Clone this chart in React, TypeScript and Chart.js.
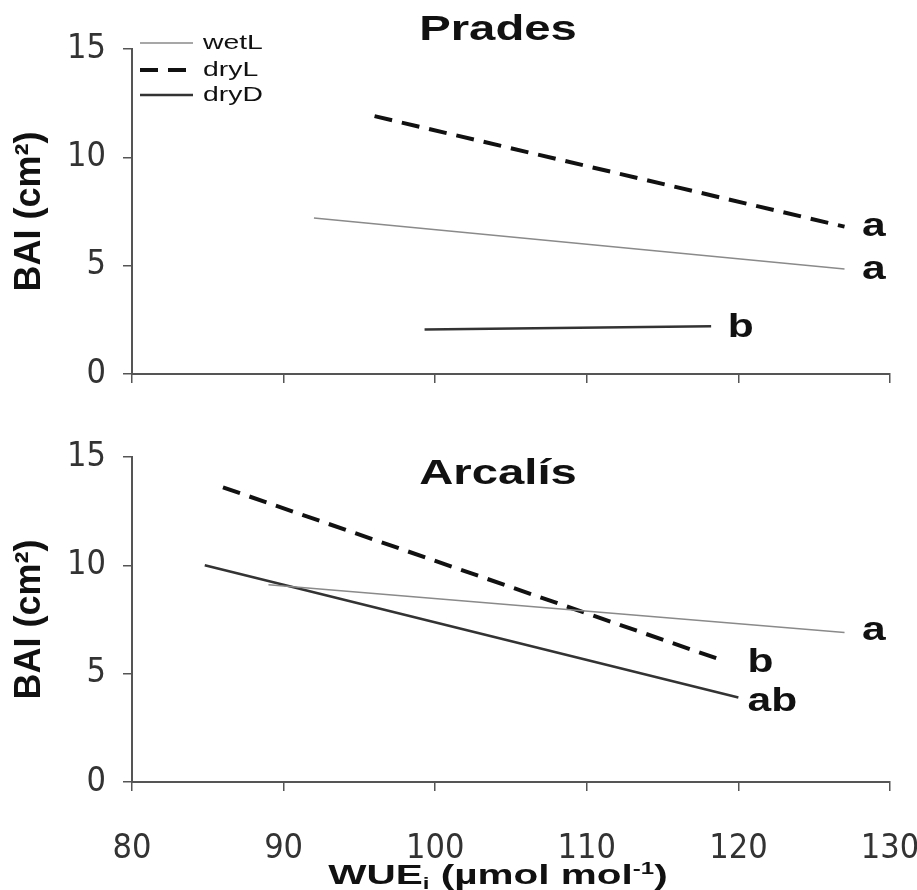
import { useEffect, useRef } from 'react';
import { Chart, registerables } from 'chart.js';

Chart.register(...registerables);

// ---------- data ----------
const seriesNames = ['wetL', 'dryL', 'dryD'];
const xTickValues = [80, 90, 100, 110, 120, 130];
const yTickValues = [0, 5, 10, 15];

const pradesTitle = 'Prades';
const pradesWetL = [{ x: 92, y: 7.2 }, { x: 127, y: 4.85 }];
const pradesDryL = [{ x: 96, y: 11.9 }, { x: 127, y: 6.8 }];
const pradesDryD = [{ x: 99.3, y: 2.05 }, { x: 118.2, y: 2.2 }];
const pradesLetters = ['a', 'a', 'b'];
const pradesLetterX = [128.15, 128.15, 119.3];
const pradesLetterY = [6.76, 4.81, 2.13];

const arcalisTitle = 'Arcalís';
const arcalisWetL = [{ x: 89, y: 9.1 }, { x: 127, y: 6.9 }];
const arcalisDryL = [{ x: 86, y: 13.6 }, { x: 119, y: 5.6 }];
const arcalisDryD = [{ x: 84.8, y: 10.0 }, { x: 120, y: 3.9 }];
const arcalisLetters = ['a', 'b', 'ab'];
const arcalisLetterX = [128.15, 120.6, 120.6];
const arcalisLetterY = [6.94, 5.5, 3.7];

const yTitle = 'BAI (cm²)';

// ---------- styles ----------
const W = 917;
const TICK_FONT = "'Liberation Sans Narrow', 'DejaVu Sans Condensed', 'Liberation Sans', Arial, sans-serif";
const BOLD_FONT = "'Liberation Sans', Arial, sans-serif";
const seriesStyles = [
  { color: '#8a8a8a', width: 1.5, dash: [] as number[] },
  { color: '#111111', width: 4, dash: [18, 10] },
  { color: '#333333', width: 2.5, dash: [] as number[] },
];

function stretchedText(ctx: CanvasRenderingContext2D, text: string, x: number, y: number, font: string, sx: number, align: CanvasTextAlign, baseline: CanvasTextBaseline) {
  ctx.save();
  ctx.font = font;
  ctx.translate(x, y);
  ctx.scale(sx, 1);
  ctx.textAlign = align;
  ctx.textBaseline = baseline;
  ctx.fillStyle = '#111';
  ctx.fillText(text, 0, 0);
  ctx.restore();
}

interface PanelCfg {
  title: string;
  titleDy: number;
  series: { x: number; y: number }[][];
  letters: string[];
  letterX: number[];
  letterY: number[];
  showXLabels: boolean;
  showLegend: boolean;
  showXTitle: boolean;
  height: number;
  padTop: number;
  xAxisHeight: number;
}

function buildChart(canvas: HTMLCanvasElement, cfg: PanelCfg) {
  const annotate = {
    id: 'annotate',
    afterDatasetsDraw(chart: any) {
      const ctx: CanvasRenderingContext2D = chart.ctx;
      const area = chart.chartArea;
      const xs = chart.scales.x;
      const ys = chart.scales.y;
      // panel title
      stretchedText(ctx, cfg.title, (area.left + area.right) / 2 - 13, area.top + cfg.titleDy,
        `bold 35px ${BOLD_FONT}`, 1.35, 'center', 'middle');
      // significance letters
      const size = 34;
      cfg.letters.forEach((t, i) => {
        const px = xs.getPixelForValue(cfg.letterX[i]);
        const py = ys.getPixelForValue(cfg.letterY[i]);
        stretchedText(ctx, t, px, py + size * 0.26, `bold ${size}px ${BOLD_FONT}`, 1.25, 'left', 'alphabetic');
      });
      // legend
      if (cfg.showLegend) {
        const rows = [-6, 21, 46];
        seriesNames.forEach((name, i) => {
          const st = seriesStyles[i];
          const y = area.top + rows[i];
          ctx.save();
          ctx.strokeStyle = st.color;
          ctx.lineWidth = st.width;
          ctx.setLineDash(st.dash);
          ctx.beginPath();
          ctx.moveTo(area.left + 8, y);
          ctx.lineTo(area.left + 61, y);
          ctx.stroke();
          ctx.restore();
          stretchedText(ctx, name, area.left + 71, y, `21px ${BOLD_FONT}`, 1.35, 'left', 'middle');
        });
      }
      // x axis title with subscript/superscript
      if (cfg.showXTitle) {
        const parts: { t: string; size: number; dy: number }[] = [
          { t: 'WUE', size: 27, dy: 0 },
          { t: 'i', size: 16, dy: 5 },
          { t: ' (µmol mol', size: 27, dy: 0 },
          { t: '-1', size: 16, dy: -10 },
          { t: ')', size: 27, dy: 0 },
        ];
        const sx = 1.5;
        ctx.save();
        let total = 0;
        parts.forEach(p => { ctx.font = `bold ${p.size}px ${BOLD_FONT}`; total += ctx.measureText(p.t).width * sx; });
        let x = (area.left + area.right) / 2 - 13 - total / 2;
        const baseY = xs.bottom - 6;
        parts.forEach(p => {
          const f = `bold ${p.size}px ${BOLD_FONT}`;
          ctx.font = f;
          const w = ctx.measureText(p.t).width * sx;
          stretchedText(ctx, p.t, x, baseY + p.dy, f, sx, 'left', 'alphabetic');
          x += w;
        });
        ctx.restore();
      }
    },
  };

  return new Chart(canvas, {
    type: 'line',
    data: {
      datasets: cfg.series.map((pts, i) => ({
        label: seriesNames[i],
        data: pts,
        borderColor: seriesStyles[i].color,
        borderWidth: seriesStyles[i].width,
        borderDash: seriesStyles[i].dash,
        pointRadius: 0,
        fill: false,
        tension: 0,
      })),
    },
    options: {
      animation: false,
      responsive: false,
      devicePixelRatio: 1,
      layout: { padding: { top: cfg.padTop, right: W - 890, left: 0, bottom: 0 } },
      plugins: { legend: { display: false }, title: { display: false }, tooltip: { enabled: false } },
      scales: {
        x: {
          type: 'linear',
          min: 80,
          max: 130,
          afterBuildTicks: (s: any) => { s.ticks = xTickValues.map(v => ({ value: v })); },
          afterFit: (s: any) => { s.height = cfg.xAxisHeight; s.paddingLeft = 0; s.paddingRight = 0; },
          ticks: {
            display: cfg.showXLabels,
            font: { family: TICK_FONT, size: 34 },
            color: '#333',
            padding: 38,
            maxRotation: 0,
          },
          grid: { drawOnChartArea: false, drawTicks: true, tickLength: 9, color: '#555', lineWidth: 1.5 },
          border: { display: true, color: '#555', width: 2 },
        },
        y: {
          type: 'linear',
          min: 0,
          max: 15,
          afterBuildTicks: (s: any) => { s.ticks = yTickValues.map(v => ({ value: v })); },
          afterFit: (s: any) => { s.width = 132; s.paddingTop = 0; s.paddingBottom = 0; },
          ticks: {
            font: { family: TICK_FONT, size: 34 },
            color: '#333',
            padding: 17,
          },
          grid: { drawOnChartArea: false, drawTicks: true, tickLength: 9, color: '#555', lineWidth: 1.5 },
          border: { display: true, color: '#555', width: 2 },
          title: {
            display: true,
            text: yTitle,
            font: { family: BOLD_FONT, size: 36, weight: 'bold' },
            color: '#111',
            padding: { top: 8, bottom: 0 },
          },
        },
      },
    },
    plugins: [annotate],
  } as any);
}

function Panel({ cfg, top }: { cfg: PanelCfg; top: number }) {
  const ref = useRef<HTMLCanvasElement>(null);
  useEffect(() => {
    if (!ref.current) return;
    const chart = buildChart(ref.current, cfg);
    return () => chart.destroy();
  }, []);
  return (
    <canvas
      ref={ref}
      width={W}
      height={cfg.height}
      style={{ position: 'absolute', left: 0, top, width: W, height: cfg.height, display: 'block' }}
    />
  );
}

const topCfg: PanelCfg = {
  title: pradesTitle,
  titleDy: -19,
  series: [pradesWetL, pradesDryL, pradesDryD],
  letters: pradesLetters,
  letterX: pradesLetterX,
  letterY: pradesLetterY,
  showXLabels: false,
  showLegend: true,
  showXTitle: false,
  height: 400,
  padTop: 49,
  xAxisHeight: 26,
};

const bottomCfg: PanelCfg = {
  title: arcalisTitle,
  titleDy: 17,
  series: [arcalisWetL, arcalisDryL, arcalisDryD],
  letters: arcalisLetters,
  letterX: arcalisLetterX,
  letterY: arcalisLetterY,
  showXLabels: true,
  showLegend: false,
  showXTitle: true,
  height: 490,
  padTop: 57,
  xAxisHeight: 108,
};

export default function App() {
  return (
    <div style={{ position: 'absolute', left: 0, top: 0, width: W, height: 890, background: '#fff', overflow: 'hidden' }}>
      <Panel cfg={topCfg} top={0} />
      <Panel cfg={bottomCfg} top={400} />
    </div>
  );
}
